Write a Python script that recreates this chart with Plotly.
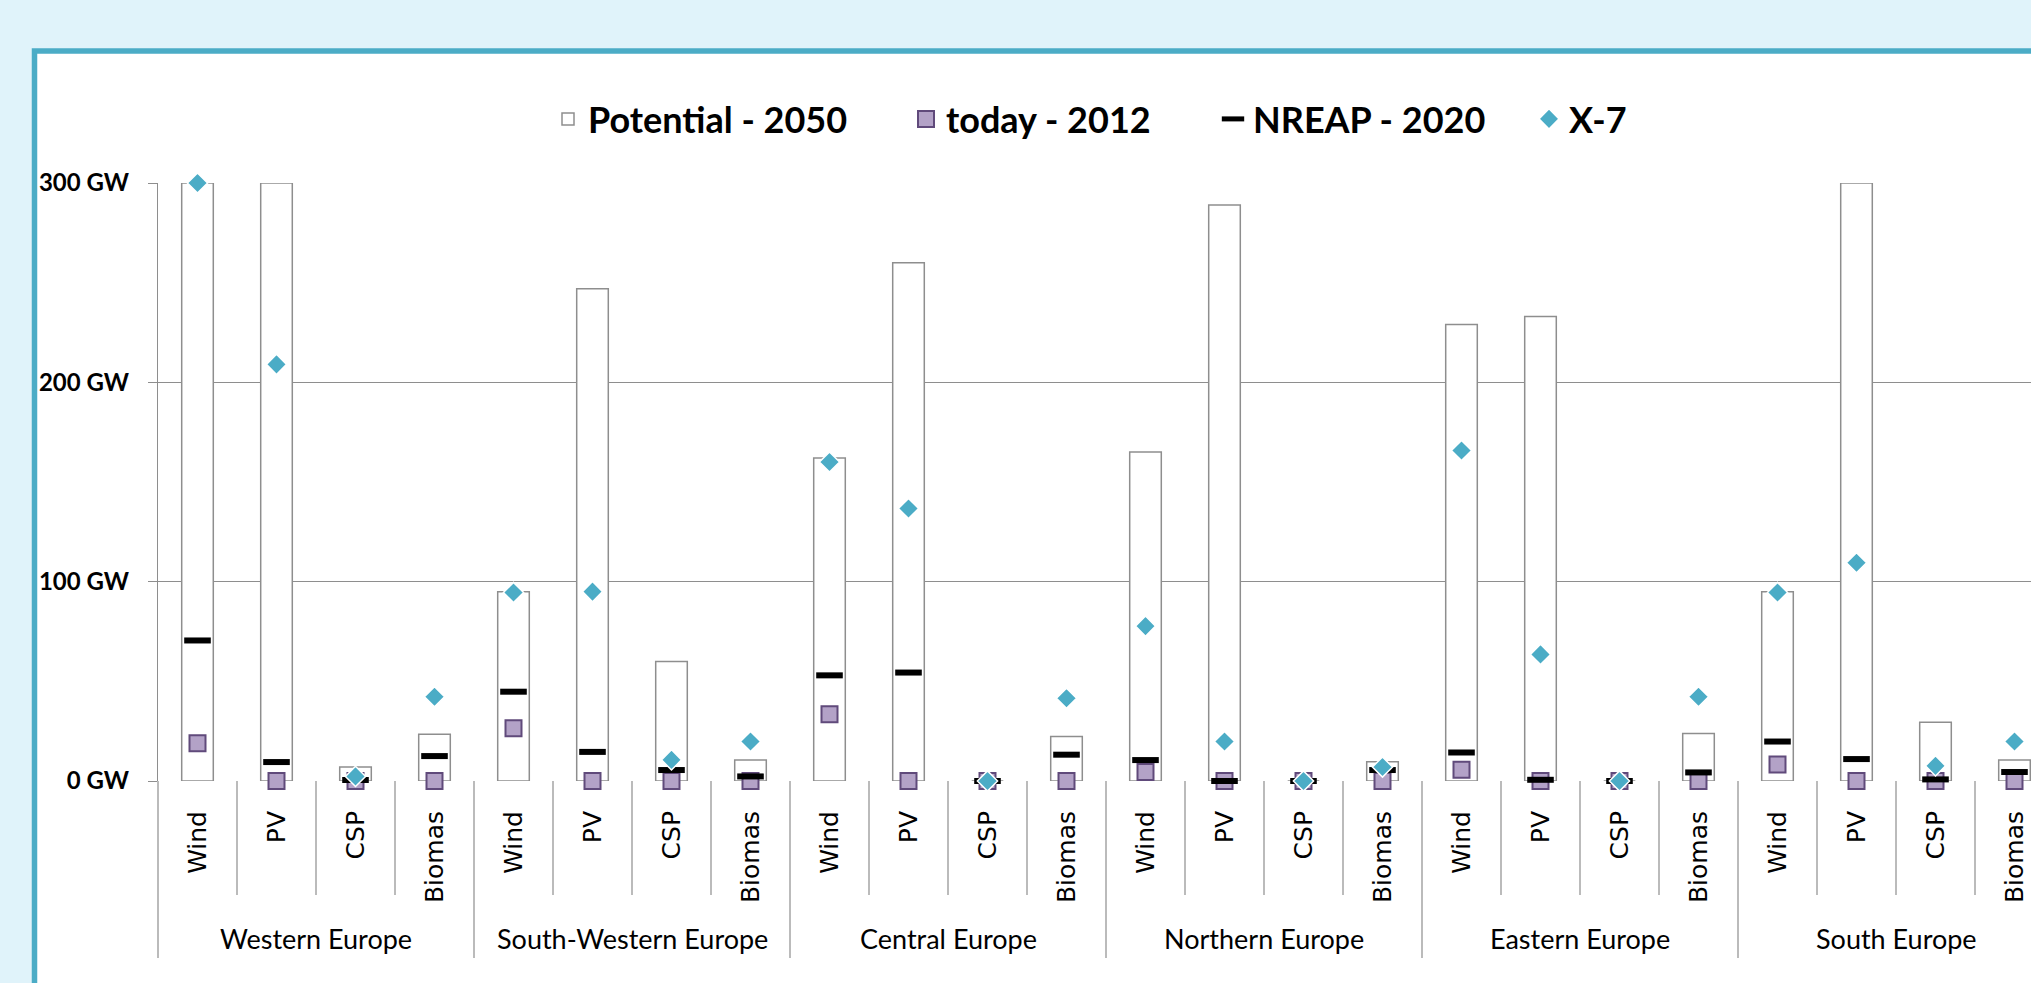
import plotly.graph_objects as go

# ---------------- data ----------------
regions = ["Western Europe", "South-Western Europe", "Central Europe",
           "Northern Europe", "Eastern Europe", "South Europe"]
techs = ["Wind", "PV", "CSP", "Biomas"]

potential_2050 = [300, 300, 7, 23.5,
                  95, 247, 60, 10.5,
                  162, 260, 0, 22.3,
                  165, 289, 0, 9.7,
                  229, 233, 0, 23.8,
                  95, 300, 29.5, 10.5]
today_2012 = [19, 0, 0, 0,
              26.5, 0, 0, 0,
              33.5, 0, 0, 0,
              4.5, 0, 0, 0,
              5.6, 0, 0, 0,
              8.3, 0, 0, 0]
nreap_2020 = [70.5, 9.5, 0.5, 12.5,
              44.8, 14.6, 5.5, 2.3,
              53, 54.4, 0, 13.2,
              10.5, 0, 0, 5.5,
              14.3, 0.6, 0, 4.3,
              19.8, 11, 0.8, 4.5]
x7_scenario = [300, 209, 2.3, 42.3,
               94.6, 95, 10.6, 19.8,
               160, 136.7, 0, 41.5,
               77.7, 19.8, 0, 7,
               165.8, 63.5, 0, 42.3,
               94.6, 109.5, 7.6, 19.8]
y_tick_values = [0, 100, 200, 300]
y_tick_labels = ["0 GW", "100 GW", "200 GW", "300 GW"]

# ---------------- derived ----------------
n_tech = len(techs)
n_slots = len(regions) * n_tech
x_pos = list(range(n_slots))
x_labels = [t for r in regions for t in techs]

# ---------------- layout geometry / style ----------------
W, H = 2031, 983
M_L, M_R, M_T, M_B = 158, 0, 183, 202
PLOT_W = W - M_L - M_R
PLOT_H = H - M_T - M_B
SLOT_PX = 79
x_lo = -0.5
x_hi = x_lo + PLOT_W / SLOT_PX

GRAY = "#8E8E8E"
TEAL = "#4BACC6"
BG = "#E0F3FA"


def paper_x(px):
    return (px - M_L) / PLOT_W


def paper_y(py):
    return (H - M_B - py) / PLOT_H


def slot_paper_x(v):
    return (v - x_lo) / (x_hi - x_lo)


fig = go.Figure()

fig.add_trace(go.Bar(
    x=x_pos, y=potential_2050, name="Potential - 2050", width=0.4,
    marker=dict(color="white", line=dict(color=GRAY, width=1.5)),
    legendwidth=313,
))
fig.add_trace(go.Scatter(
    x=x_pos, y=today_2012, name="today - 2012", mode="markers",
    marker=dict(symbol="square", size=16, color="#B3A2C7",
                line=dict(color="#604A7B", width=2)),
    cliponaxis=False, legendwidth=262,
))
fig.add_trace(go.Scatter(
    x=x_pos, y=nreap_2020, name="NREAP - 2020", mode="markers",
    marker=dict(symbol="line-ew", size=19, color="black",
                line=dict(color="black", width=6)),
    cliponaxis=False, legendwidth=271,
))
fig.add_trace(go.Scatter(
    x=x_pos, y=x7_scenario, name="X-7", mode="markers",
    marker=dict(symbol="diamond", size=15.5, color=TEAL,
                line=dict(color="white", width=1.5)),
    cliponaxis=False, legendwidth=60,
))

shapes = []
# white panel with teal frame
shapes.append(dict(type="rect", xref="paper", yref="paper", layer="below",
                   x0=paper_x(34.5), x1=paper_x(W + 60),
                   y0=paper_y(H + 60), y1=paper_y(51),
                   fillcolor="white", line=dict(color=TEAL, width=5.5)))
# category dividers below the axis
for k in range(n_slots + 1):
    xp = slot_paper_x(k - 0.5)
    if xp > 1.001:
        continue
    bottom = 958 if k % n_tech == 0 else 895
    shapes.append(dict(type="line", xref="paper", yref="paper", layer="below",
                       x0=xp, x1=xp, y0=0, y1=paper_y(bottom),
                       line=dict(color=GRAY, width=1.2)))

annotations = []
for r_i, reg in enumerate(regions):
    annotations.append(dict(
        x=r_i * n_tech + (n_tech - 1) / 2, xref="x",
        y=paper_y(938), yref="paper", yanchor="middle", xanchor="center",
        text=reg, showarrow=False,
        font=dict(family="Lato", size=27, color="black")))

fig.update_layout(
    width=W, height=H,
    margin=dict(l=M_L, r=M_R, t=M_T, b=M_B, autoexpand=False),
    paper_bgcolor=BG, plot_bgcolor="rgba(0,0,0,0)",
    shapes=shapes, annotations=annotations,
    bargap=0.6, showlegend=True,
    legend=dict(orientation="h", xref="container", yref="container",
                x=548 / W, y=1 - 119 / H, xanchor="left", yanchor="middle",
                font=dict(family="Lato", size=36, color="black", weight="bold"),
                bgcolor="rgba(0,0,0,0)", traceorder="normal"),
    xaxis=dict(range=[x_lo, x_hi], tickmode="array", tickvals=x_pos,
               ticktext=x_labels, tickangle=-90, ticks="",
               tickfont=dict(family="DejaVu Sans", size=25, color="black"),
               showgrid=False, zeroline=False, showline=False,
               automargin=False, ticklabelstandoff=24, fixedrange=True),
    yaxis=dict(range=[0, 300], tickmode="array", tickvals=y_tick_values,
               ticktext=y_tick_labels, ticks="outside", ticklen=9,
               tickcolor=GRAY, tickwidth=1.3,
               showgrid=True, gridcolor=GRAY, gridwidth=1.3,
               showline=True, linecolor=GRAY, linewidth=1.3,
               zeroline=False, automargin=False, ticklabelstandoff=14,
               tickfont=dict(family="Lato", size=24, color="black", weight="bold"),
               fixedrange=True),
)

fig.write_html("out.html")
